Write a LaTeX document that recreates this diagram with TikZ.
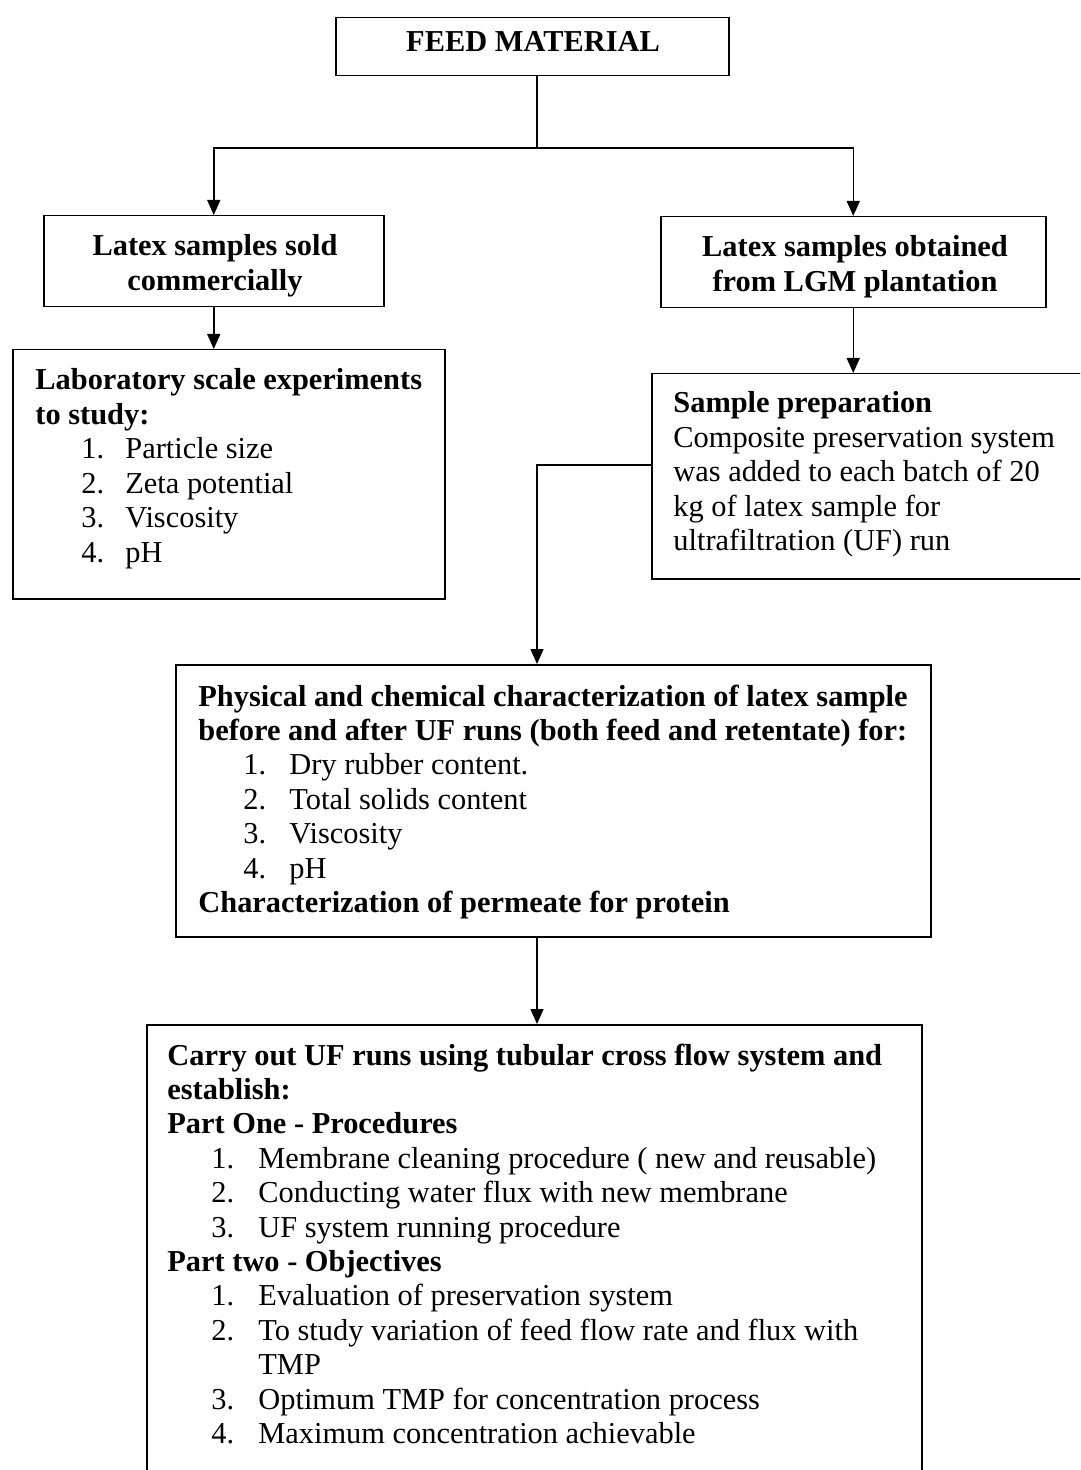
\documentclass[tikz,border=0pt]{standalone}
\usepackage{fontspec}
\setmainfont{Liberation Serif}
\usetikzlibrary{arrows.meta}
\newcommand\diagfont{\fontsize{15.2}{17.2}\selectfont}
\newcommand\diagitem[3]{\hspace*{#1}\makebox[#2][l]{#3}}
\begin{document}
\begin{tikzpicture}[x=0.5pt,y=-0.5pt,
  box/.style={draw, line width=0.75pt, inner sep=0pt, anchor=north west},
  txt/.style={inner sep=0pt, anchor=base west, font=\diagfont},
  ctxt/.style={inner sep=0pt, anchor=base, font=\diagfont},
  conn/.style={line width=0.75pt},
  arr/.style={line width=0.75pt, -{Triangle[length=7.5pt,width=6.5pt]}}]
\useasboundingbox (0,0) rectangle (1080,1470);
\fill[white] (0,0) rectangle (1080,1470);
\clip (0,0) rectangle (1080,1470);

% boxes
\node[box, minimum width=196.5pt, minimum height=29pt] (feed) at (335,17) {};
\node[box, minimum width=170pt, minimum height=45.5pt] (lsold) at (43,215) {};
\node[box, minimum width=192.5pt, minimum height=45.5pt] (rlgm) at (660,216) {};
\node[box, minimum width=216pt, minimum height=124.5pt] (lab) at (12,349) {};
\node[box, minimum width=224.5pt, minimum height=102.5pt] (prep) at (651,373) {};
\node[box, minimum width=377.5pt, minimum height=136pt] (phys) at (175,664) {};
\node[box, minimum width=387.5pt, minimum height=240pt] (uf) at (146,1024) {};

% texts
\node[ctxt] (tfeed) at (533,52) {\bfseries FEED MATERIAL};
\node[ctxt] (tlsold) at (215,256) {\parbox[t]{165pt}{\centering\bfseries Latex samples sold\\ commercially}};
\node[ctxt] (trlgm) at (855,257) {\parbox[t]{190pt}{\centering\bfseries Latex samples obtained\\ from LGM plantation}};
\node[txt] (tlab) at (35,390) {\parbox[t]{300pt}{\raggedright
  \textbf{Laboratory scale experiments}\\
  \textbf{to study:}\\
  \diagitem{23pt}{22pt}{1.}Particle size\\
  \diagitem{23pt}{22pt}{2.}Zeta potential\\
  \diagitem{23pt}{22pt}{3.}Viscosity\\
  \diagitem{23pt}{22pt}{4.}pH}};
\node[txt] (tprep) at (673,413) {\parbox[t]{300pt}{\raggedright
  \textbf{Sample preparation}\\
  Composite preservation system\\
  was added to each batch of 20\\
  kg of latex sample for\\
  ultrafiltration (UF) run}};
\node[txt] (tphys) at (198,706) {\parbox[t]{450pt}{\raggedright
  \textbf{Physical and chemical characterization of latex sample}\\
  \textbf{before and after UF runs (both feed and retentate) for:}\\
  \diagitem{22.5pt}{23pt}{1.}Dry rubber content.\\
  \diagitem{22.5pt}{23pt}{2.}Total solids content\\
  \diagitem{22.5pt}{23pt}{3.}Viscosity\\
  \diagitem{22.5pt}{23pt}{4.}pH\\
  \textbf{Characterization of permeate for protein}}};
\node[txt] (tuf) at (167,1065) {\parbox[t]{450pt}{\raggedright
  \textbf{Carry out UF runs using tubular cross flow system and}\\
  \textbf{establish:}\\
  \textbf{Part One - Procedures}\\
  \diagitem{22pt}{23.5pt}{1.}Membrane cleaning procedure ( new and reusable)\\
  \diagitem{22pt}{23.5pt}{2.}Conducting water flux with new membrane\\
  \diagitem{22pt}{23.5pt}{3.}UF system running procedure\\
  \textbf{Part two - Objectives}\\
  \diagitem{22pt}{23.5pt}{1.}Evaluation  of preservation system\\
  \diagitem{22pt}{23.5pt}{2.}To study variation of feed flow rate and flux with\\
  \hspace*{45.5pt}TMP\\
  \diagitem{22pt}{23.5pt}{3.}Optimum TMP for concentration process\\
  \diagitem{22pt}{23.5pt}{4.}Maximum concentration achievable}};

% connectors
\coordinate (hub) at (537,148);
\draw[conn] (feed.south -| hub) -- (hub);
\draw[arr] (hub) -| (lsold.north);
\draw[arr] (hub) -| (rlgm.north);
\draw[arr] (lsold.south) -- (lsold.south |- lab.north);
\draw[arr] (rlgm.south) -- (rlgm.south |- prep.north);
\coordinate (pj) at (537,465);
\draw[arr] (prep.west |- pj) -- (pj) -- (pj |- phys.north);
\draw[arr] (phys.south -| pj) -- (pj |- uf.north);
\end{tikzpicture}
\end{document}
